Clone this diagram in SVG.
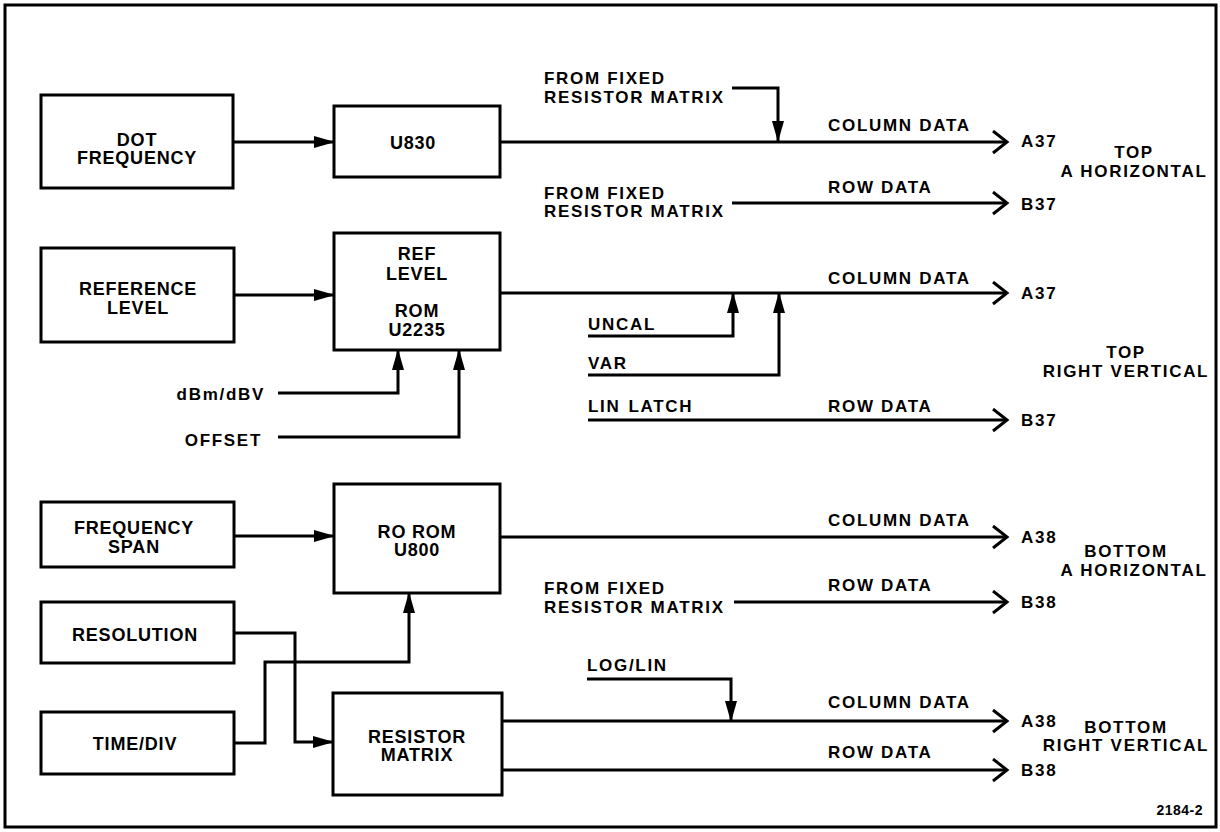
<svg xmlns="http://www.w3.org/2000/svg" width="1220" height="832" viewBox="0 0 1220 832">
<style>
.box{fill:#fff;stroke:#000;stroke-width:3}
.bt{font-family:"Liberation Sans",Arial,sans-serif;font-weight:bold;font-size:18px;letter-spacing:0.8px;text-anchor:middle;fill:#000}
.lb{font-family:"Liberation Sans",Arial,sans-serif;font-weight:bold;font-size:17px;letter-spacing:1.7px;fill:#000}
.mid{text-anchor:middle}
.end{text-anchor:end}
.w{fill:none;stroke:#000;stroke-width:3}
.fa{marker-end:url(#fill)}
.oa{marker-end:url(#open)}
</style>
<defs>
<marker id="fill" markerUnits="userSpaceOnUse" markerWidth="22" markerHeight="14" refX="20" refY="6.5" orient="auto" viewBox="0 0 22 14">
<path d="M0,0.5 L21,6.5 L0,12.5 z" fill="#000"/>
</marker>
<marker id="open" markerUnits="userSpaceOnUse" markerWidth="20" markerHeight="28" refX="15" refY="12" orient="auto" viewBox="0 0 20 28">
<path d="M1,1 L15,12 L1,23" fill="none" stroke="#000" stroke-width="3"/>
</marker>
</defs>
<rect x="5" y="5" width="1211" height="822" fill="#fff" stroke="#000" stroke-width="3"/>

<g id="connectors">
<path class="w fa" d="M233,142 H334"/>
<path class="w oa" d="M500,142 H1007"/>
<path class="w fa" d="M732,88 H778 V141"/>
<path class="w oa" d="M732,203 H1007"/>
<path class="w fa" d="M234,295 H334"/>
<path class="w oa" d="M500,293 H1007"/>
<path class="w fa" d="M588,336 H733 V293"/>
<path class="w fa" d="M588,375 H779 V293"/>
<path class="w oa" d="M588,420 H1007"/>
<path class="w fa" d="M278,393 H398 V350"/>
<path class="w fa" d="M278,437 H459 V350"/>
<path class="w fa" d="M234,536 H334"/>
<path class="w oa" d="M500,537 H1007"/>
<path class="w oa" d="M734,602 H1007"/>
<path class="w fa" d="M234,633 H295 V742 H333"/>
<path class="w fa" d="M234,743 H265 V662 H409 V593"/>
<path class="w fa" d="M587,679 H731 V721"/>
<path class="w oa" d="M502,721 H1007"/>
<path class="w oa" d="M502,770 H1007"/>
</g>

<g id="dot-frequency"><rect class="box" x="41" y="95" width="192" height="93"/><text class="bt" x="137" y="145.5">DOT</text><text class="bt" x="137" y="163.5">FREQUENCY</text></g>
<g id="u830"><rect class="box" x="334" y="106" width="166" height="71"/><text class="bt" x="413" y="148.5">U830</text></g>
<g id="reference-level"><rect class="box" x="41" y="248" width="193" height="94"/><text class="bt" x="138" y="294.5">REFERENCE</text><text class="bt" x="138" y="313.5">LEVEL</text></g>
<g id="ref-level-rom"><rect class="box" x="334" y="233" width="166" height="117"/><text class="bt" x="417" y="259.5">REF</text><text class="bt" x="417" y="279.5">LEVEL</text><text class="bt" x="417" y="316.5">ROM</text><text class="bt" x="417" y="335.5">U2235</text></g>
<g id="frequency-span"><rect class="box" x="41" y="502" width="193" height="65"/><text class="bt" x="134" y="533.5">FREQUENCY</text><text class="bt" x="134" y="552.5">SPAN</text></g>
<g id="ro-rom"><rect class="box" x="334" y="484" width="166" height="109"/><text class="bt" x="417" y="537.5">RO ROM</text><text class="bt" x="417" y="555.5">U800</text></g>
<g id="resolution"><rect class="box" x="41" y="602" width="193" height="61"/><text class="bt" x="135" y="640.5">RESOLUTION</text></g>
<g id="time-div"><rect class="box" x="41" y="712" width="193" height="62"/><text class="bt" x="135" y="749.5">TIME/DIV</text></g>
<g id="resistor-matrix"><rect class="box" x="333" y="693" width="169" height="102"/><text class="bt" x="417" y="742.5">RESISTOR</text><text class="bt" x="417" y="760.5">MATRIX</text></g>

<g id="labels">
<text class="lb" x="544" y="84">FROM FIXED</text>
<text class="lb" x="544" y="103">RESISTOR MATRIX</text>
<text class="lb" x="828" y="131">COLUMN DATA</text>
<text class="lb" x="1021" y="147">A37</text>
<text class="lb mid" x="1134" y="158">TOP</text>
<text class="lb mid" x="1134" y="177">A HORIZONTAL</text>
<text class="lb" x="544" y="199">FROM FIXED</text>
<text class="lb" x="544" y="217">RESISTOR MATRIX</text>
<text class="lb" x="828" y="193">ROW DATA</text>
<text class="lb" x="1021" y="210">B37</text>

<text class="lb" x="828" y="284">COLUMN DATA</text>
<text class="lb" x="1021" y="299">A37</text>
<text class="lb" x="588" y="330">UNCAL</text>
<text class="lb" x="588" y="369">VAR</text>
<text class="lb mid" x="1126" y="358">TOP</text>
<text class="lb mid" x="1126" y="377">RIGHT VERTICAL</text>
<text class="lb" x="588" y="412">LIN<tspan dx="8">LATCH</tspan></text>
<text class="lb" x="828" y="412">ROW DATA</text>
<text class="lb" x="1021" y="426">B37</text>
<text class="lb end" x="265" y="400">dBm/dBV</text>
<text class="lb end" x="262" y="446">OFFSET</text>

<text class="lb" x="828" y="526">COLUMN DATA</text>
<text class="lb" x="1021" y="543">A38</text>
<text class="lb mid" x="1126" y="557">BOTTOM</text>
<text class="lb mid" x="1134" y="576">A HORIZONTAL</text>
<text class="lb" x="544" y="594">FROM FIXED</text>
<text class="lb" x="544" y="613">RESISTOR MATRIX</text>
<text class="lb" x="828" y="591">ROW DATA</text>
<text class="lb" x="1021" y="608">B38</text>

<text class="lb" x="587" y="671">LOG/LIN</text>
<text class="lb" x="828" y="708">COLUMN DATA</text>
<text class="lb" x="1021" y="727">A38</text>
<text class="lb mid" x="1126" y="733">BOTTOM</text>
<text class="lb mid" x="1126" y="751">RIGHT VERTICAL</text>
<text class="lb" x="828" y="758">ROW DATA</text>
<text class="lb" x="1021" y="776">B38</text>

<text class="lb end" x="1203" y="815" style="font-size:14px;letter-spacing:0.5px">2184-2</text>
</g>
</svg>
